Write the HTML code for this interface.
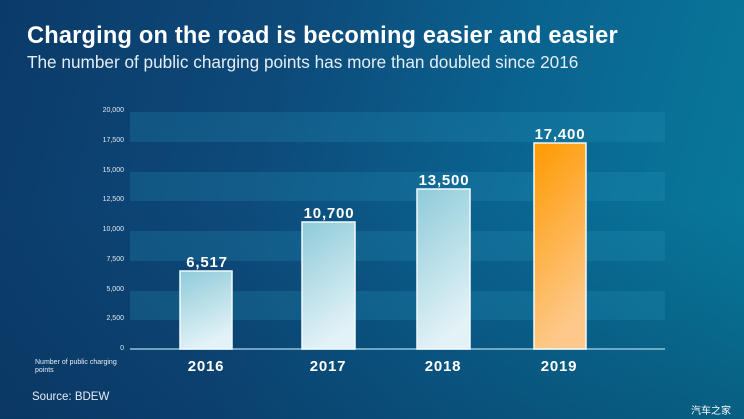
<!DOCTYPE html>
<html><head><meta charset="utf-8"><style>
html,body{margin:0;padding:0}
body{width:744px;height:419px;overflow:hidden;position:relative;font-family:"Liberation Sans","Noto Sans CJK SC",sans-serif;
background:linear-gradient(105deg,#0b3a68 0%,#0d4a7a 35%,#0a6490 65%,#087c9c 100%);}
.t{position:absolute;color:#fff;white-space:nowrap}
</style></head><body>
<div style="position:absolute;inset:0;background:linear-gradient(0deg,rgba(8,40,80,.35),rgba(0,0,0,0) 50%)"></div>
<div class="t" style="left:27px;top:23px;font-size:23.6px;font-weight:bold;letter-spacing:0.2px">Charging on the road is becoming easier and easier</div>
<div class="t" style="left:27px;top:52px;font-size:17.2px;color:#e4eef5">The number of public charging points has more than doubled since 2016</div>
<svg width="744" height="419" style="position:absolute;left:0;top:0" font-family="Liberation Sans, sans-serif">
<defs>
<linearGradient id="b" x1="0" y1="0" x2="0.3" y2="1"><stop offset="0" stop-color="#8ecbd9"/><stop offset="1" stop-color="#e2f2f7"/></linearGradient>
<linearGradient id="o" x1="0" y1="0" x2="0.3" y2="1"><stop offset="0" stop-color="#ff9900"/><stop offset="1" stop-color="#fdc98a"/></linearGradient>
</defs>
<g fill="#2a9cc0" opacity="0.22">
<rect x="130" y="112" width="535" height="30"/>
<rect x="130" y="172" width="535" height="29"/>
<rect x="130" y="231" width="535" height="30"/>
<rect x="130" y="291" width="535" height="29"/>
</g>
<line x1="130" y1="349" x2="665" y2="349" stroke="#8fc3d8" stroke-width="1.5"/>
<g fill="#dfe9f1" font-size="7" text-anchor="end">
<text x="124" y="112">20,000</text><text x="124" y="142">17,500</text><text x="124" y="172">15,000</text><text x="124" y="201">12,500</text>
<text x="124" y="231">10,000</text><text x="124" y="261">7,500</text><text x="124" y="291">5,000</text><text x="124" y="320">2,500</text><text x="124" y="350">0</text>
</g>
<g stroke="#f2fafd" stroke-width="1.5">
<rect x="180" y="271" width="52" height="78" fill="url(#b)"/>
<rect x="302" y="222" width="53" height="127" fill="url(#b)"/>
<rect x="417" y="189" width="53" height="160" fill="url(#b)"/>
<rect x="534" y="143" width="52" height="206" fill="url(#o)"/>
</g>
<g fill="#fff" font-size="15" font-weight="bold" text-anchor="middle" letter-spacing="0.8">
<text x="207" y="267">6,517</text><text x="329" y="218">10,700</text><text x="444" y="185">13,500</text><text x="560" y="139">17,400</text>
</g>
<g fill="#fff" font-size="15" font-weight="bold" text-anchor="middle" letter-spacing="0.8">
<text x="206" y="371">2016</text><text x="328" y="371">2017</text><text x="443" y="371">2018</text><text x="559" y="371">2019</text>
</g>
<text x="35" y="364" fill="#e4eef5" font-size="7">Number of public charging</text>
<text x="35" y="372" fill="#e4eef5" font-size="7">points</text>
<text x="32" y="400" fill="#e4eef5" font-size="11.5">Source: BDEW</text>
</svg>
<div class="t" style="left:691px;top:402px;font-size:10px;font-family:'Noto Sans CJK SC',sans-serif">汽车之家</div>
</body></html>
